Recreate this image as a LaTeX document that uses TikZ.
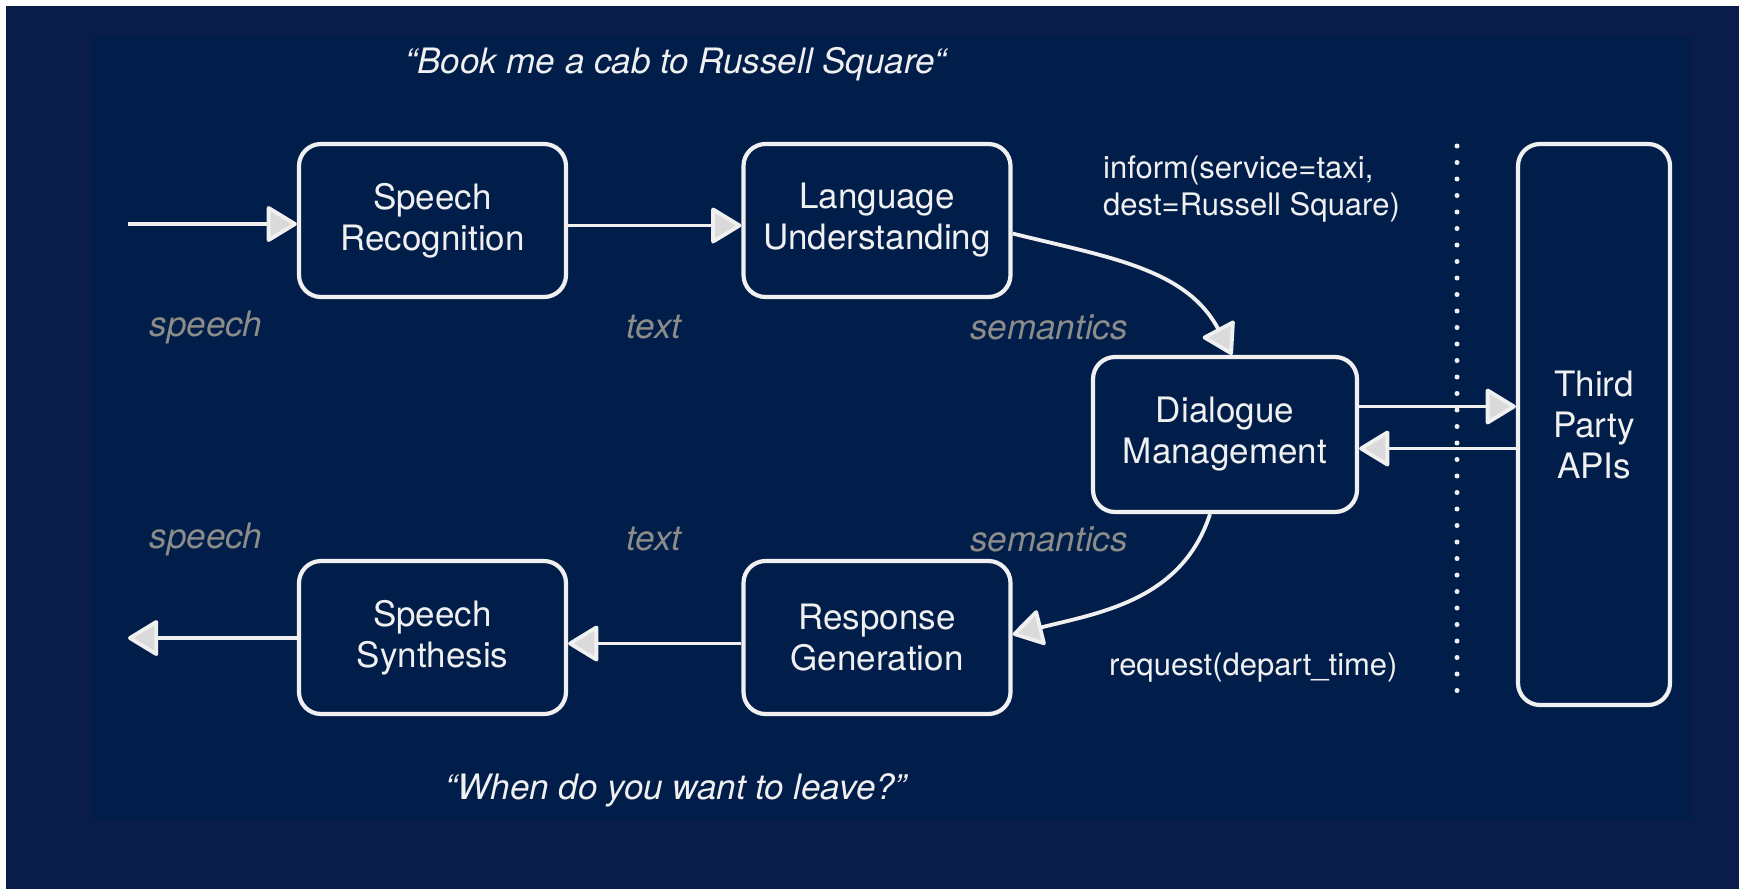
\documentclass[tikz,border=0pt]{standalone}
\usepackage{fontspec}
\setmainfont{TeX Gyre Heros}
\usetikzlibrary{arrows.meta}

\definecolor{pagenavy}{RGB}{10,28,73}
\definecolor{panelnavy}{RGB}{1,30,75}
\definecolor{chalk}{RGB}{240,240,240}
\definecolor{mutedgrey}{RGB}{140,140,136}
\definecolor{tipfill}{RGB}{218,218,218}

\begin{document}
\begin{tikzpicture}[x=1pt,y=-1pt,
  module/.style={draw=chalk, line width=4.2pt, rounded corners=22pt,
    minimum width=267pt, minimum height=153pt, align=center, text=chalk,
    font=\fontsize{35}{41}\selectfont, inner sep=0pt},
  flow/.style={draw=chalk, line width=3.8pt,
    -{Triangle[length=32pt,width=38pt,fill=tipfill,round]}},
  channel/.style={text=mutedgrey, font=\itshape\fontsize{35}{41}\selectfont, inner sep=0pt},
  utterance/.style={text=chalk, font=\itshape\fontsize{35}{41}\selectfont, inner sep=0pt},
  act/.style={text=chalk, font=\fontsize{31}{37}\selectfont, align=left, inner sep=0pt},
]
% page and panel
\useasboundingbox (0,0) rectangle (1739,889);
\fill[white] (0,0) rectangle (1739,889);
\fill[pagenavy] (6,6) rectangle (1739,889);
\fill[panelnavy] (92,36) rectangle (1692,821);

% pipeline modules
\node[module] (sr) at (432.5,220.5) {Speech\\Recognition};
\node[module] (lu) at (877,220.5) {Language\\Understanding};
\node[module, minimum width=264pt, minimum height=155pt] (dm) at (1225,434.5) {Dialogue\\Management};
\node[module, minimum width=152pt, minimum height=561pt] (tpa) at (1594,424.5) {Third\\Party\\APIs};
\node[module] (ss) at (432.5,637.5) {Speech\\Synthesis};
\node[module] (rg) at (877,637.5) {Response\\Generation};

% system boundary
\coordinate (sepTop) at (1457,146);
\coordinate (sepBot) at (1457,706);
\draw[chalk, line width=5pt, line cap=round, dash pattern=on 0pt off 16.5pt] (sepTop) -- (sepBot);

% free ends of the audio connectors
\coordinate (audioIn) at (128,224);
\coordinate (audioOut) at (128,638);

% connectors
\draw[flow] (audioIn) -- (audioIn -| sr.west);
\draw[flow] ([yshift=-5pt]sr.east) -- ([yshift=-5pt]lu.west);
\draw[flow] ([yshift=-13pt]lu.east) to[out=-14, in=118] ([xshift=7pt]dm.north);
\draw[flow] ([yshift=28pt]dm.east) -- ([yshift=28pt]dm.east -| tpa.west);
\draw[flow] ([yshift=-14pt]dm.east -| tpa.west) -- ([yshift=-14pt]dm.east);
\draw[flow] ([xshift=-15pt]dm.south) to[out=-108, in=14] ([yshift=3pt]rg.east);
\draw[flow] ([yshift=-6pt]rg.west) -- ([yshift=-6pt]ss.east);
\draw[flow] (ss.west |- audioOut) -- (audioOut);

% utterances
\node[utterance] (userSays) at (676,64) {“Book me a cab to Russell Square“};
\node[utterance] (systemSays) at (676,790) {“When do you want to leave?”};

% channel labels
\node[channel] (chSpeechA) at (206,327) {speech};
\node[channel] (chTextA) at (654,327) {text};
\node[channel] (chSemA) at (1049,327) {semantics};
\node[channel] (chSpeechB) at (206,539) {speech};
\node[channel] (chTextB) at (654,539) {text};
\node[channel] (chSemB) at (1049,539) {semantics};

% dialogue acts
\node[act, anchor=west] (informAct) at (1103,189) {inform(service=taxi,\\dest=Russell Square)};
\node[act, anchor=west] (requestAct) at (1109,668) {request(depart\_time)};
\end{tikzpicture}
\end{document}
